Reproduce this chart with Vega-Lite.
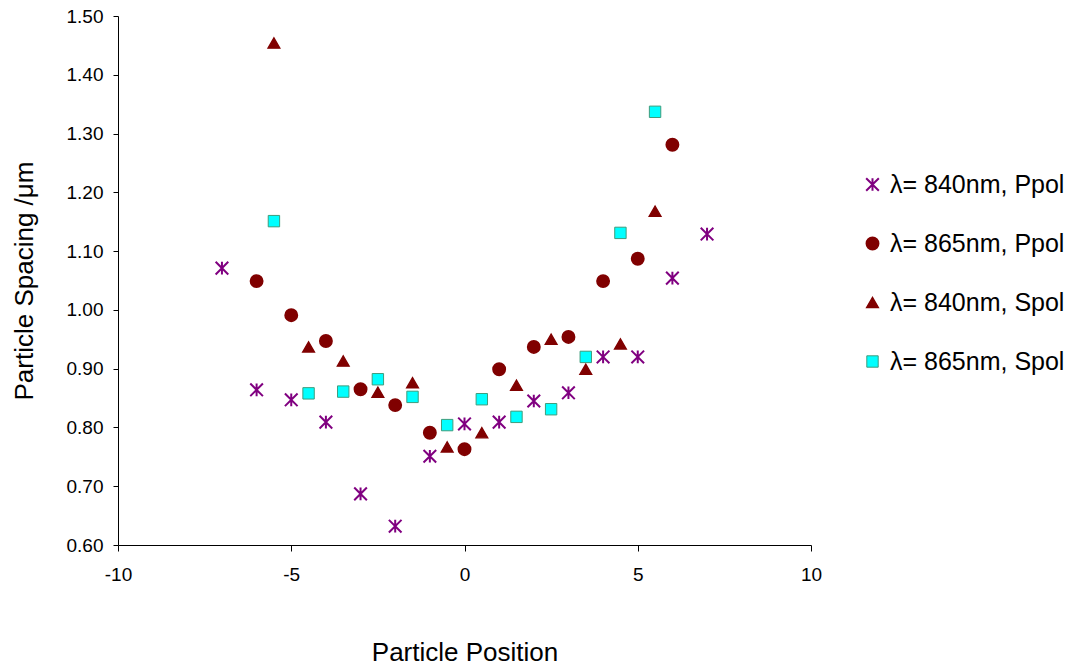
{
  "$schema": "https://vega.github.io/schema/vega-lite/v6.json",
  "width": 693,
  "height": 529,
  "autosize": {"type": "none"},
  "padding": {"left": 118, "top": 16, "right": 272, "bottom": 125},
  "background": "white",
  "config": {
    "view": {"stroke": null},
    "font": "Liberation Sans",
    "axis": {
      "grid": false,
      "domainColor": "black",
      "tickColor": "black",
      "labelColor": "black",
      "titleColor": "black",
      "labelFont": "Liberation Sans",
      "titleFont": "Liberation Sans",
      "titleFontWeight": "normal",
      "labelFontSize": 19,
      "titleFontSize": 26
    },
    "legend": {
      "labelFont": "Liberation Sans",
      "labelFontSize": 25,
      "labelColor": "black"
    }
  },
  "data": {
    "values": [
      {"pos": -7, "spacing": 1.071, "series": "λ= 840nm, Ppol"},
      {"pos": -6, "spacing": 0.864, "series": "λ= 840nm, Ppol"},
      {"pos": -5, "spacing": 0.847, "series": "λ= 840nm, Ppol"},
      {"pos": -4, "spacing": 0.809, "series": "λ= 840nm, Ppol"},
      {"pos": -3, "spacing": 0.687, "series": "λ= 840nm, Ppol"},
      {"pos": -2, "spacing": 0.632, "series": "λ= 840nm, Ppol"},
      {"pos": -1, "spacing": 0.751, "series": "λ= 840nm, Ppol"},
      {"pos": 0, "spacing": 0.806, "series": "λ= 840nm, Ppol"},
      {"pos": 1, "spacing": 0.809, "series": "λ= 840nm, Ppol"},
      {"pos": 2, "spacing": 0.845, "series": "λ= 840nm, Ppol"},
      {"pos": 3, "spacing": 0.859, "series": "λ= 840nm, Ppol"},
      {"pos": 4, "spacing": 0.920, "series": "λ= 840nm, Ppol"},
      {"pos": 5, "spacing": 0.920, "series": "λ= 840nm, Ppol"},
      {"pos": 6, "spacing": 1.054, "series": "λ= 840nm, Ppol"},
      {"pos": 7, "spacing": 1.129, "series": "λ= 840nm, Ppol"},
      {"pos": -6, "spacing": 1.049, "series": "λ= 865nm, Ppol"},
      {"pos": -5, "spacing": 0.991, "series": "λ= 865nm, Ppol"},
      {"pos": -4, "spacing": 0.947, "series": "λ= 865nm, Ppol"},
      {"pos": -3, "spacing": 0.865, "series": "λ= 865nm, Ppol"},
      {"pos": -2, "spacing": 0.838, "series": "λ= 865nm, Ppol"},
      {"pos": -1, "spacing": 0.791, "series": "λ= 865nm, Ppol"},
      {"pos": 0, "spacing": 0.763, "series": "λ= 865nm, Ppol"},
      {"pos": 1, "spacing": 0.899, "series": "λ= 865nm, Ppol"},
      {"pos": 2, "spacing": 0.937, "series": "λ= 865nm, Ppol"},
      {"pos": 3, "spacing": 0.954, "series": "λ= 865nm, Ppol"},
      {"pos": 4, "spacing": 1.049, "series": "λ= 865nm, Ppol"},
      {"pos": 5, "spacing": 1.087, "series": "λ= 865nm, Ppol"},
      {"pos": 6, "spacing": 1.281, "series": "λ= 865nm, Ppol"},
      {"pos": -5.5, "spacing": 1.454, "series": "λ= 840nm, Spol"},
      {"pos": -4.5, "spacing": 0.937, "series": "λ= 840nm, Spol"},
      {"pos": -3.5, "spacing": 0.913, "series": "λ= 840nm, Spol"},
      {"pos": -2.5, "spacing": 0.860, "series": "λ= 840nm, Spol"},
      {"pos": -1.5, "spacing": 0.876, "series": "λ= 840nm, Spol"},
      {"pos": -0.5, "spacing": 0.767, "series": "λ= 840nm, Spol"},
      {"pos": 0.5, "spacing": 0.791, "series": "λ= 840nm, Spol"},
      {"pos": 1.5, "spacing": 0.872, "series": "λ= 840nm, Spol"},
      {"pos": 2.5, "spacing": 0.950, "series": "λ= 840nm, Spol"},
      {"pos": 3.5, "spacing": 0.899, "series": "λ= 840nm, Spol"},
      {"pos": 4.5, "spacing": 0.942, "series": "λ= 840nm, Spol"},
      {"pos": 5.5, "spacing": 1.168, "series": "λ= 840nm, Spol"},
      {"pos": -5.5, "spacing": 1.151, "series": "λ= 865nm, Spol"},
      {"pos": -4.5, "spacing": 0.858, "series": "λ= 865nm, Spol"},
      {"pos": -3.5, "spacing": 0.861, "series": "λ= 865nm, Spol"},
      {"pos": -2.5, "spacing": 0.882, "series": "λ= 865nm, Spol"},
      {"pos": -1.5, "spacing": 0.852, "series": "λ= 865nm, Spol"},
      {"pos": -0.5, "spacing": 0.804, "series": "λ= 865nm, Spol"},
      {"pos": 0.5, "spacing": 0.848, "series": "λ= 865nm, Spol"},
      {"pos": 1.5, "spacing": 0.818, "series": "λ= 865nm, Spol"},
      {"pos": 2.5, "spacing": 0.831, "series": "λ= 865nm, Spol"},
      {"pos": 3.5, "spacing": 0.920, "series": "λ= 865nm, Spol"},
      {"pos": 4.5, "spacing": 1.131, "series": "λ= 865nm, Spol"},
      {"pos": 5.5, "spacing": 1.337, "series": "λ= 865nm, Spol"}
    ]
  },
  "mark": {"type": "point", "filled": true, "opacity": 1},
  "encoding": {
    "x": {
      "field": "pos",
      "type": "quantitative",
      "scale": {"domain": [-10, 10], "nice": false, "zero": false},
      "axis": {
        "title": "Particle Position",
        "values": [-10, -5, 0, 5, 10],
        "labelExpr": "'' + datum.value",
        "tickSize": 6,
        "labelPadding": 14,
        "titlePadding": 55,
        "labelFlush": false,
        "labelOverlap": false
      }
    },
    "y": {
      "field": "spacing",
      "type": "quantitative",
      "scale": {"domain": [0.6, 1.5], "nice": false, "zero": false},
      "axis": {
        "title": "Particle Spacing /μm",
        "values": [0.6, 0.7, 0.8, 0.9, 1.0, 1.1, 1.2, 1.3, 1.4, 1.5],
        "format": ".2f",
        "tickSize": 5,
        "labelPadding": 10,
        "titlePadding": 29,
        "labelFlush": false,
        "labelOverlap": false
      }
    },
    "fill": {
      "field": "series",
      "type": "nominal",
      "scale": {
        "domain": ["λ= 840nm, Ppol", "λ= 865nm, Ppol", "λ= 840nm, Spol", "λ= 865nm, Spol"],
        "range": ["#800080", "#800000", "#800000", "#00FFFF"]
      },
      "legend": {
        "title": null,
        "orient": "none",
        "legendX": 742,
        "legendY": 156,
        "padding": 0,
        "rowPadding": 33,
        "labelOffset": 5,
        "labelLimit": 400
      }
    },
    "stroke": {
      "field": "series",
      "type": "nominal",
      "scale": {
        "domain": ["λ= 840nm, Ppol", "λ= 865nm, Ppol", "λ= 840nm, Spol", "λ= 865nm, Spol"],
        "range": ["#800080", "#800000", "#800000", "#3f9c7c"]
      },
      "legend": {
        "title": null,
        "orient": "none",
        "legendX": 742,
        "legendY": 156,
        "padding": 0,
        "rowPadding": 33,
        "labelOffset": 5,
        "labelLimit": 400
      }
    },
    "shape": {
      "field": "series",
      "type": "nominal",
      "scale": {
        "domain": ["λ= 840nm, Ppol", "λ= 865nm, Ppol", "λ= 840nm, Spol", "λ= 865nm, Spol"],
        "range": ["M-1,-1L1,1M-1,1L1,-1M0,-1L0,1", "circle", "triangle-up", "square"]
      },
      "legend": {
        "title": null,
        "orient": "none",
        "legendX": 742,
        "legendY": 156,
        "padding": 0,
        "rowPadding": 33,
        "labelOffset": 5,
        "labelLimit": 400
      }
    },
    "size": {
      "field": "series",
      "type": "nominal",
      "scale": {
        "domain": ["λ= 840nm, Ppol", "λ= 865nm, Ppol", "λ= 840nm, Spol", "λ= 865nm, Spol"],
        "range": [160, 130, 170, 110]
      },
      "legend": {
        "title": null,
        "orient": "none",
        "legendX": 742,
        "legendY": 156,
        "padding": 0,
        "rowPadding": 33,
        "labelOffset": 5,
        "labelLimit": 400
      }
    },
    "strokeWidth": {
      "field": "series",
      "type": "nominal",
      "scale": {
        "domain": ["λ= 840nm, Ppol", "λ= 865nm, Ppol", "λ= 840nm, Spol", "λ= 865nm, Spol"],
        "range": [2, 1, 1, 2]
      },
      "legend": {
        "title": null,
        "orient": "none",
        "legendX": 742,
        "legendY": 156,
        "padding": 0,
        "rowPadding": 33,
        "labelOffset": 5,
        "labelLimit": 400
      }
    }
  }
}
